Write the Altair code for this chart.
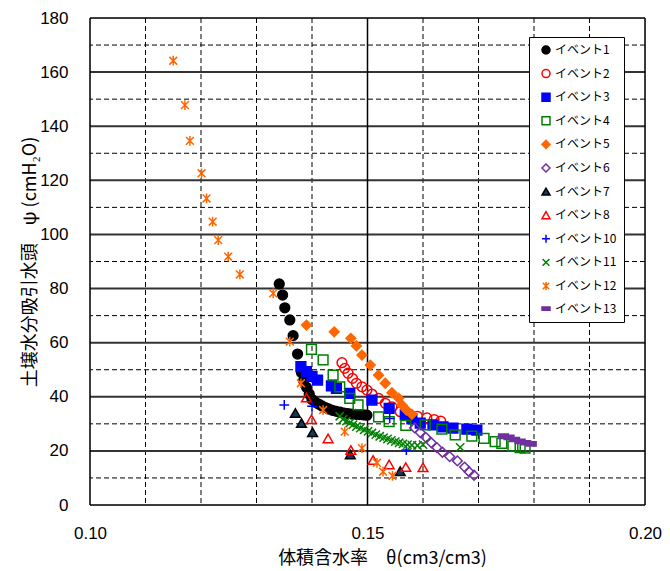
import altair as alt
import pandas as pd

# ---------------- data ----------------
events = ["イベント1", "イベント2", "イベント3", "イベント4", "イベント5", "イベント6",
          "イベント7", "イベント8", "イベント10", "イベント11", "イベント12", "イベント13"]

theta_1 = [0.1341, 0.1347, 0.1351, 0.1360, 0.1366, 0.1374, 0.1381, 0.1385, 0.1390, 0.1395,
           0.1400, 0.1406, 0.1412, 0.1418, 0.1424, 0.1430, 0.1437, 0.1444, 0.1451, 0.1458,
           0.1465, 0.1472, 0.1479, 0.1486, 0.1493, 0.1499]
psi_1 = [81.7, 77.6, 72.9, 68.4, 62.6, 55.8, 49.0, 46.0, 43.5, 41.0,
         39.0, 38.0, 37.3, 36.6, 36.0, 35.5, 35.0, 34.6, 34.3, 34.0,
         33.8, 33.6, 33.5, 33.4, 33.3, 33.2]

theta_2 = [0.1454, 0.1459, 0.1465, 0.1473, 0.1480, 0.1490, 0.1499, 0.1508, 0.1520, 0.1532,
           0.1544, 0.1559, 0.1572, 0.1590, 0.1607, 0.1620, 0.1632]
psi_2 = [52.6, 50.5, 48.7, 46.8, 45.0, 43.7, 42.5, 41.0, 39.4, 37.6,
         36.3, 34.5, 33.6, 32.8, 32.2, 31.6, 31.0]

theta_3 = [0.1380, 0.1390, 0.1400, 0.1410, 0.1435, 0.1444, 0.1468, 0.1508, 0.1539, 0.1568,
           0.1580, 0.1595, 0.1618, 0.1636, 0.1654, 0.1679, 0.1697]
psi_3 = [51.1, 49.3, 47.5, 46.2, 44.0, 43.1, 41.3, 38.8, 35.7, 33.3,
         31.8, 30.3, 29.6, 28.9, 28.4, 28.0, 27.7]

theta_4 = [0.1399, 0.1420, 0.1438, 0.1450, 0.1468, 0.1483, 0.1520, 0.1539, 0.1569, 0.1604,
           0.1634, 0.1658, 0.1688, 0.1710, 0.1730, 0.1742, 0.1762, 0.1775, 0.1784]
psi_4 = [57.5, 53.6, 48.0, 43.7, 39.4, 37.0, 32.6, 30.8, 29.4, 29.6,
         28.0, 25.9, 25.5, 24.6, 23.4, 22.8, 21.8, 21.2, 21.0]

theta_5 = [0.1390, 0.1440, 0.1470, 0.1480, 0.1490, 0.1505, 0.1520, 0.1532, 0.1544, 0.1556,
           0.1562, 0.1570, 0.1580]
psi_5 = [66.5, 64.0, 61.6, 58.8, 55.4, 51.7, 48.0, 45.0, 41.5, 39.5,
         37.0, 35.1, 33.5]

theta_6 = [0.1585, 0.1595, 0.1605, 0.1615, 0.1625, 0.1635, 0.1648, 0.1662, 0.1675, 0.1683, 0.1692]
psi_6 = [28.5, 26.8, 25.0, 23.0, 21.2, 19.5, 17.9, 16.3, 14.0, 12.3, 11.0]

theta_7 = [0.1370, 0.1381, 0.1401, 0.1469, 0.1559]
psi_7 = [34.0, 30.3, 26.9, 18.7, 12.5]

theta_8 = [0.1390, 0.1399, 0.1429, 0.1470, 0.1510, 0.1539, 0.1569, 0.1600]
psi_8 = [39.7, 31.7, 24.6, 20.3, 16.6, 15.0, 14.0, 13.9]

theta_10 = [0.1350, 0.1400, 0.1540, 0.1570]
psi_10 = [37.0, 36.5, 32.0, 20.3]

theta_11 = [0.1450, 0.1456, 0.1462, 0.1468, 0.1474, 0.1480, 0.1487, 0.1494, 0.1501, 0.1508,
            0.1515, 0.1522, 0.1529, 0.1536, 0.1543, 0.1550, 0.1557, 0.1564, 0.1572, 0.1580,
            0.1590, 0.1600, 0.1667]
psi_11 = [32.8, 31.7, 31.0, 30.3, 29.7, 29.0, 28.4, 27.8, 27.2, 26.6,
          26.0, 25.4, 24.9, 24.4, 23.9, 23.4, 23.0, 22.6, 22.3, 22.1,
          22.0, 22.3, 21.3]

theta_12 = [0.1150, 0.1171, 0.1180, 0.1201, 0.1210, 0.1221, 0.1231, 0.1249, 0.1270, 0.1330,
            0.1360, 0.1380, 0.1420, 0.1459, 0.1490, 0.1517, 0.1528, 0.1545]
psi_12 = [164.2, 147.8, 134.6, 122.6, 113.3, 104.7, 97.9, 91.8, 85.2, 78.2,
          60.4, 45.0, 35.1, 27.1, 21.0, 15.6, 12.3, 10.8]

theta_13 = [0.1745, 0.1755, 0.1765, 0.1775, 0.1785, 0.1795]
psi_13 = [25.5, 25.0, 24.2, 23.5, 23.0, 22.6]

series_theta = [theta_1, theta_2, theta_3, theta_4, theta_5, theta_6,
                theta_7, theta_8, theta_10, theta_11, theta_12, theta_13]
series_psi = [psi_1, psi_2, psi_3, psi_4, psi_5, psi_6,
              psi_7, psi_8, psi_10, psi_11, psi_12, psi_13]

x_ticks = [0.10, 0.15, 0.20]
y_ticks = [0, 20, 40, 60, 80, 100, 120, 140, 160, 180]
y_major_grid = [20, 40, 60, 80, 100, 120, 140, 160]
y_minor_grid = [10, 30, 50, 70, 90, 110, 130, 150, 170]
x_major_grid = [0.15]
x_minor_grid = [0.11, 0.12, 0.13, 0.14, 0.16, 0.17, 0.18, 0.19]
x_border = [0.10, 0.20]
y_border = [0, 180]

# ---------------- styles ----------------
plus_path = "M-1,0L1,0M0,-1L0,1"
x_path = "M-0.85,-0.85L0.85,0.85M-0.85,0.85L0.85,-0.85"
ast_path = "M-0.8,-0.8L0.8,0.8M-0.8,0.8L0.8,-0.8M0,-1L0,1"
bar_path = "M-1,-0.42L1,-0.42L1,0.42L-1,0.42Z"

shapes = ["circle", "circle", "square", "square", "diamond", "diamond",
          "triangle-up", "triangle-up", plus_path, x_path, ast_path, bar_path]
fills = ["#000000", "transparent", "#0000FF", "transparent", "#FF6600", "transparent",
         "#17375E", "transparent", "transparent", "transparent", "transparent", "#7030A0"]
strokes = ["#000000", "#FF0000", "#0000FF", "#008000", "#FF6600", "#7030A0",
           "#000000", "#FF0000", "#0000FF", "#008000", "#FF6600", "#7030A0"]

rows = []
for ev, xs, ys in zip(events, series_theta, series_psi):
    for xv, yv in zip(xs, ys):
        rows.append({"theta": xv, "psi": yv, "event": ev})
df = pd.DataFrame(rows)

W, H = 555, 487
xscale = alt.Scale(domain=[0.10, 0.20], nice=False, zero=False)
yscale = alt.Scale(domain=[0, 180], nice=False, zero=True)

JP = "Noto Sans CJK JP"
NUM = "Liberation Sans"

common_axis = dict(domain=False, ticks=False, grid=False, labelFlush=False,
                   labelFont=NUM, labelFontSize=17, labelColor="black",
                   titleFont=JP, titleFontSize=18, titleFontWeight="normal",
                   titleColor="black", titleAlign="center", titleBaseline="middle")

x_axis = alt.Axis(values=x_ticks, format=".2f", title="体積含水率　θ(cm3/cm3)",
                  labelPadding=20, titleX=292, titleY=53, **common_axis)
y_axis = alt.Axis(values=y_ticks, format="d", title="土壌水分吸引水頭　ψ (cmH₂O)",
                  labelPadding=22, titleX=-60, titleY=H / 2, titleAngle=270,
                  **common_axis)

legend = alt.Legend(
    title=None, orient="none", legendX=439, legendY=19,
    padding=7, symbolOffset=4, labelOffset=3, rowPadding=9.6,
    labelFont=JP, labelFontSize=12, labelColor="black",
    strokeColor="black", fillColor="white", symbolSize=64,
    symbolStrokeWidth=1.5, zindex=1, labelLimit=200,
)


def hrule(values, **kw):
    return alt.Chart(pd.DataFrame({"psi": values})).mark_rule(**kw).encode(
        y=alt.Y("psi:Q", scale=yscale, axis=y_axis))


def vrule(values, **kw):
    return alt.Chart(pd.DataFrame({"theta": values})).mark_rule(**kw).encode(
        x=alt.X("theta:Q", scale=xscale, axis=x_axis))


hminor = hrule(y_minor_grid, color="#000000", strokeWidth=1, strokeDash=[5, 3])
vminor = vrule(x_minor_grid, color="#000000", strokeWidth=1, strokeDash=[5, 3])
hmajor = hrule(y_major_grid, color="#333333", strokeWidth=2)
vmajor = vrule(x_major_grid, color="#000000", strokeWidth=1.5)
hborder = hrule(y_border, color="#000000", strokeWidth=1.5)
vborder = vrule(x_border, color="#000000", strokeWidth=1.5)

points = alt.Chart(df).mark_point(size=95, opacity=1, strokeWidth=1.5).encode(
    x=alt.X("theta:Q", scale=xscale, axis=x_axis),
    y=alt.Y("psi:Q", scale=yscale, axis=y_axis),
    shape=alt.Shape("event:N", scale=alt.Scale(domain=events, range=shapes), legend=legend),
    fill=alt.Fill("event:N", scale=alt.Scale(domain=events, range=fills), legend=legend),
    stroke=alt.Stroke("event:N", scale=alt.Scale(domain=events, range=strokes), legend=legend),
)

chart = alt.layer(hminor, vminor, hmajor, vmajor, hborder, vborder, points).properties(
    width=W, height=H,
    autosize=alt.AutoSizeParams(type="none"),
    padding={"left": 82, "top": 10, "right": 17, "bottom": 66},
).configure_view(
    stroke=None
).configure(background="white")

chart.save("out.html", embed_options={"renderer": "svg", "actions": False})
